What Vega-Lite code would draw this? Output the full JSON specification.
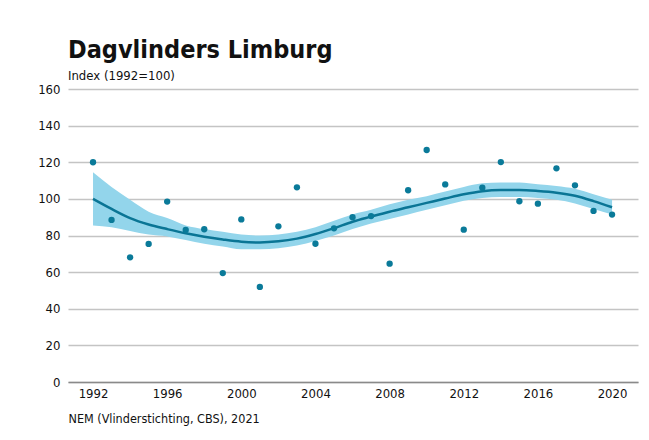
{
  "$schema": "https://vega.github.io/schema/vega-lite/v6.json",
  "width": 570,
  "height": 293,
  "autosize": {"type": "none"},
  "padding": {"left": 68, "top": 89, "right": 11, "bottom": 58},
  "background": "white",
  "config": {
    "view": {"stroke": null},
    "font": "DejaVu Sans Condensed",
    "axis": {"labelFont": "DejaVu Sans Condensed", "titleFont": "DejaVu Sans Condensed"},
    "axisY": {
      "grid": true,
      "gridColor": "#c4c4c4",
      "gridWidth": 1.5,
      "ticks": false,
      "domain": false,
      "labelFontSize": 13,
      "labelColor": "#111111",
      "labelPadding": 8,
      "labelOverlap": false
    }
  },
  "title": {
    "text": "Dagvlinders Limburg",
    "subtitle": "Index (1992=100)",
    "anchor": "start",
    "frame": "group",
    "font": "DejaVu Sans Condensed",
    "fontSize": 25,
    "fontWeight": "bold",
    "color": "#111111",
    "subtitleFont": "DejaVu Sans Condensed",
    "subtitleFontSize": 13,
    "subtitleColor": "#111111",
    "subtitlePadding": 7,
    "offset": 0
  },
  "datasets": {
    "obs": [
      {"year": 1992, "index": 120},
      {"year": 1993, "index": 88.5},
      {"year": 1994, "index": 68.1},
      {"year": 1995, "index": 75.4},
      {"year": 1996, "index": 98.5},
      {"year": 1997, "index": 83},
      {"year": 1998, "index": 83.4},
      {"year": 1999, "index": 59.5},
      {"year": 2000, "index": 88.8},
      {"year": 2001, "index": 51.9},
      {"year": 2002, "index": 85},
      {"year": 2003, "index": 106.3},
      {"year": 2004, "index": 75.5},
      {"year": 2005, "index": 83.9},
      {"year": 2006, "index": 90},
      {"year": 2007, "index": 90.6},
      {"year": 2008, "index": 64.6},
      {"year": 2009, "index": 104.7},
      {"year": 2010, "index": 126.7},
      {"year": 2011, "index": 107.9},
      {"year": 2012, "index": 83.2},
      {"year": 2013, "index": 106.1},
      {"year": 2014, "index": 120.1},
      {"year": 2015, "index": 98.7},
      {"year": 2016, "index": 97.4},
      {"year": 2017, "index": 116.7},
      {"year": 2018, "index": 107.4},
      {"year": 2019, "index": 93.4},
      {"year": 2020, "index": 91.4}
    ],
    "trend": [
      {"year": 1992, "trend": 100, "lo": 85.5, "hi": 114.5},
      {"year": 1993, "trend": 94.5, "lo": 84.5, "hi": 106.5},
      {"year": 1994, "trend": 89.5, "lo": 82.5, "hi": 99.5},
      {"year": 1995, "trend": 86, "lo": 80.5, "hi": 93},
      {"year": 1996, "trend": 83.5, "lo": 79.5, "hi": 89.5},
      {"year": 1997, "trend": 81.2, "lo": 77.5, "hi": 85.5},
      {"year": 1998, "trend": 79.3, "lo": 75.5, "hi": 83.5},
      {"year": 1999, "trend": 77.8, "lo": 74, "hi": 82},
      {"year": 2000, "trend": 76.6, "lo": 72.5, "hi": 80.5},
      {"year": 2001, "trend": 76.2, "lo": 72.5, "hi": 80},
      {"year": 2002, "trend": 76.8, "lo": 73, "hi": 80.5},
      {"year": 2003, "trend": 78.3, "lo": 74.5, "hi": 82},
      {"year": 2004, "trend": 80.8, "lo": 77, "hi": 84.5},
      {"year": 2005, "trend": 84, "lo": 80, "hi": 88},
      {"year": 2006, "trend": 87.5, "lo": 83.5, "hi": 91.5},
      {"year": 2007, "trend": 90.3, "lo": 86.5, "hi": 94},
      {"year": 2008, "trend": 93, "lo": 89, "hi": 97},
      {"year": 2009, "trend": 95.4, "lo": 91.5, "hi": 99.5},
      {"year": 2010, "trend": 97.8, "lo": 94, "hi": 101.5},
      {"year": 2011, "trend": 100.2, "lo": 96.5, "hi": 104},
      {"year": 2012, "trend": 102.5, "lo": 99, "hi": 106.5},
      {"year": 2013, "trend": 104.2, "lo": 100.5, "hi": 108.5},
      {"year": 2014, "trend": 104.8, "lo": 101, "hi": 109},
      {"year": 2015, "trend": 104.8, "lo": 101, "hi": 109},
      {"year": 2016, "trend": 104.3, "lo": 100.5, "hi": 108},
      {"year": 2017, "trend": 103.4, "lo": 99.5, "hi": 107},
      {"year": 2018, "trend": 101.7, "lo": 97.5, "hi": 105.5},
      {"year": 2019, "trend": 98.8, "lo": 94.5, "hi": 102.5},
      {"year": 2020, "trend": 95.4, "lo": 91.5, "hi": 99.5}
    ]
  },
  "encoding": {
    "x": {
      "field": "year",
      "type": "quantitative",
      "scale": {"domain": [1990.65, 2021.4], "nice": false, "zero": false},
      "axis": {
        "values": [1992, 1996, 2000, 2004, 2008, 2012, 2016, 2020],
        "tickCount": 20,
        "format": "d",
        "grid": false,
        "ticks": false,
        "domain": true,
        "domainColor": "#8a8a8a",
        "domainWidth": 1.5,
        "labelFontSize": 13,
        "labelColor": "#111111",
        "labelPadding": 5,
        "labelOverlap": false,
        "title": "NEM (Vlinderstichting, CBS), 2021",
        "titleAnchor": "start",
        "titleFontSize": 12.5,
        "titleFontWeight": "normal",
        "titleColor": "#111111",
        "titlePadding": 12
      }
    }
  },
  "layer": [
    {
      "data": {"name": "trend"},
      "mark": {"type": "area", "color": "#93d5eb", "opacity": 1, "interpolate": "monotone"},
      "encoding": {
        "y": {
          "field": "lo",
          "type": "quantitative",
          "scale": {"domain": [0, 160], "nice": false},
          "axis": {"values": [0, 20, 40, 60, 80, 100, 120, 140, 160], "tickCount": 20, "title": null}
        },
        "y2": {"field": "hi"}
      }
    },
    {
      "data": {"name": "trend"},
      "mark": {"type": "line", "color": "#0a7595", "strokeWidth": 2.5, "interpolate": "monotone"},
      "encoding": {
        "y": {"field": "trend", "type": "quantitative"}
      }
    },
    {
      "data": {"name": "obs"},
      "mark": {"type": "circle", "color": "#0a7a99", "opacity": 1, "size": 40},
      "encoding": {
        "y": {"field": "index", "type": "quantitative"}
      }
    }
  ]
}
